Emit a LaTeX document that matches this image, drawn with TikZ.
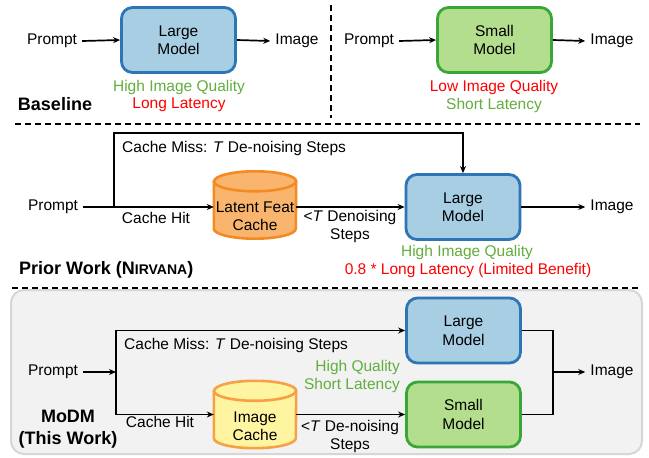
\documentclass[tikz,border=0pt]{standalone}
\usepackage{fontspec}
\setmainfont{Liberation Sans}
\usetikzlibrary{arrows.meta,calc}
\definecolor{bfill}{HTML}{A7CEE3}
\definecolor{bdraw}{HTML}{2E75B6}
\definecolor{gfill}{HTML}{B3DE8D}
\definecolor{gdraw}{HTML}{3AA637}
\definecolor{ofill}{HTML}{F9B56E}
\definecolor{odraw}{HTML}{F48A22}
\definecolor{yfill}{HTML}{FFF4A0}
\definecolor{ydraw}{HTML}{F7A045}
\definecolor{gtext}{HTML}{62AE3E}
\definecolor{rtext}{HTML}{FF0000}
\definecolor{bgfill}{HTML}{F2F2F2}
\definecolor{bgdraw}{HTML}{D6D6D6}
\tikzset{
  txt/.style={font=\fontsize{15.5}{18.5}\selectfont, inner sep=5pt, align=center},
  lbl/.style={font=\fontsize{18}{22}\selectfont\bfseries, inner sep=0pt, align=center},
  model/.style={txt, rounded corners=11pt, line width=2.8pt, minimum width=114pt, minimum height=65pt},
  largebox/.style={model, draw=bdraw, fill=bfill},
  smallbox/.style={model, draw=gdraw, fill=gfill},
  cylbox/.style={minimum width=82pt, minimum height=67pt, inner sep=0pt},
  arr/.style={line width=1.7pt, -{Stealth[length=7pt,width=6pt]}},
  ln/.style={line width=1.7pt},
  sep/.style={line width=1.4pt, dash pattern=on 6pt off 4pt},
  gt/.style={txt, text=gtext, inner sep=0pt},
  rt/.style={txt, text=rtext, inner sep=0pt},
}
\newcommand\mycyl[3]{%
  \draw[fill=#2, draw=#3, line width=2.6pt]
    ([yshift=-10pt]#1.north west) -- ([yshift=10pt]#1.south west)
    arc[start angle=180,end angle=360,x radius=41pt,y radius=10pt]
    -- ([yshift=-10pt]#1.north east)
    arc[start angle=0,end angle=180,x radius=41pt,y radius=10pt] -- cycle;
  \draw[draw=#3, line width=2.6pt] ([yshift=-10pt]#1.north west)
    arc[start angle=180,end angle=360,x radius=41pt,y radius=10pt];
}
\begin{document}
\begin{tikzpicture}[x=1pt,y=-1pt]
\useasboundingbox[fill=white] (0,0) rectangle (649,458);
% ---------------- Baseline ----------------
\node[txt] (P1) at (52,41) {Prompt};
\node[largebox] (L1) at (178.5,40) {Large\\Model};
\node[txt] (I1) at (297,41) {Image};
\draw[arr] (P1.east) -- (L1.west);
\draw[arr] (L1.east) -- (I1.west);
\node[gt] (q1) at (179,87) {High Image Quality};
\node[rt] (t1) at (179,105) {Long Latency};
\node[lbl] (base) at (55,104) {Baseline};
\draw[sep] (331,5) -- (331,118);
\node[txt] (P2) at (369,41) {Prompt};
\node[smallbox] (S1) at (494.5,40) {Small\\Model};
\node[txt] (I2) at (612,41) {Image};
\draw[arr] (P2.east) -- (S1.west);
\draw[arr] (S1.east) -- (I2.west);
\node[rt] (q2) at (494,87) {Low Image Quality};
\node[gt] (t2) at (494,105) {Short Latency};
\draw[sep] (15,124) -- (640,124);
% ---------------- Prior work ----------------
\node[txt] (P3) at (53,207) {Prompt};
\coordinate (b1) at (114,207);
\node[cylbox] (C1) at (255,205) {};
\mycyl{C1}{ofill}{odraw}
\node[txt, inner sep=0pt] (C1t) at (255,216) {Latent Feat\\Cache};
\node[largebox] (L2) at (463,207) {Large\\Model};
\node[txt] (I3) at (612,207) {Image};
\draw[arr] (P3.east) -- (C1.west |- P3.east);
\draw[arr] (b1) -- (114,133) -| (L2.north);
\draw[arr] (C1.east |- L2.west) -- (L2.west);
\draw[arr] (L2.east) -- (I3.west);
\node[txt, anchor=west, inner sep=0pt] (m1) at (122,148) {Cache Miss: \textit{T} De-noising Steps};
\node[txt, inner sep=0pt] (h1) at (156,218) {Cache Hit};
\node[txt, inner sep=0pt] (d1) at (350,226.5) {<\textit{T} Denoising\\Steps};
\node[gt] (q3) at (467,252) {High Image Quality};
\node[rt] (t3) at (468,270) {0.8 * Long Latency (Limited Benefit)};
\node[lbl, anchor=west] (prior) at (19,270) {Prior Work (N{\fontsize{14}{16}\selectfont IRVANA})};
\draw[sep] (12,288) -- (640,288);
% ---------------- MoDM ----------------
\draw[fill=bgfill, draw=bgdraw, line width=2pt, rounded corners=13pt] (11,290) rectangle (642,454);
\node[txt] (P4) at (53,372) {Prompt};
\coordinate (b2) at (116,372);
\node[largebox] (L3) at (463.5,330.5) {Large\\Model};
\node[smallbox] (S3) at (463.5,414.5) {Small\\Model};
\node[cylbox] (C2) at (255,414.5) {};
\mycyl{C2}{yfill}{ydraw}
\node[txt, inner sep=0pt] (C2t) at (255,426) {Image\\Cache};
\node[txt] (I4) at (612,372) {Image};
\coordinate (mg) at (553,372);
\draw[arr] (P4.east) -- (b2);
\draw[arr] (b2) |- (L3.west);
\draw[arr] (b2) |- (C2.west);
\draw[arr] (C2.east) -- (S3.west);
\draw[ln] (L3.east) -| (mg);
\draw[ln] (S3.east) -| (mg);
\draw[arr] (mg) -- (I4.west);
\node[txt, anchor=west, inner sep=0pt] (m2) at (124,345) {Cache Miss: \textit{T} De-noising Steps};
\node[gt, anchor=east, align=right] (q4) at (400,376.5) {High Quality\\Short Latency};
\node[txt, inner sep=0pt] (h2) at (160,422) {Cache Hit};
\node[txt, inner sep=0pt] (d2) at (350,436.5) {<\textit{T} De-noising\\Steps};
\node[lbl] (modm) at (68,429) {MoDM\\(This Work)};
\end{tikzpicture}
\end{document}
